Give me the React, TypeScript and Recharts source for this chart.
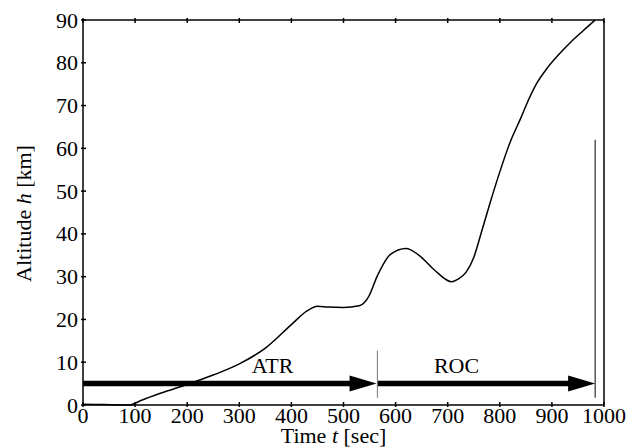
import React from "react";
import {
  Label,
  Line,
  LineChart,
  ReferenceDot,
  ReferenceLine,
  XAxis,
  YAxis,
} from "recharts";

// altitude profile
const timeSec = [
  0, 40, 90, 110, 150, 200, 250, 300, 350, 400, 430, 450, 470, 500, 530, 548,
  565, 590, 620, 645, 675, 708, 720, 735, 750, 765, 781, 800, 820, 840, 855,
  870, 890, 910, 935, 960, 983,
];
const altitudeKm = [
  0.2, 0.1, 0, 1, 2.8, 4.8, 7.0, 9.6, 13.3, 18.8, 22, 23.1, 22.9, 22.8, 23.2,
  25.3, 30.2, 35.2, 36.6, 35, 31.5, 28.8, 29.4, 31, 34.5, 40.5, 47.1, 54.5,
  61.5, 67, 71.3, 75, 78.6, 81.5, 84.7, 87.5, 90,
];

const xTicks = [0, 100, 200, 300, 400, 500, 600, 700, 800, 900, 1000];
const yTicks = [0, 10, 20, 30, 40, 50, 60, 70, 80, 90];

// phases: ATR then ROC
const phaseNames = ["ATR", "ROC"];
const phaseStart = [0, 565];
const phaseEnd = [563.5, 983];
const phaseLevel = 5;

const data = timeSec.map((t, i) => ({ t, h: altitudeKm[i] }));

const FONT = '"Liberation Serif", "Times New Roman", serif';
const TICK = 5;

const BottomTick = ({ x, y, payload }: any) => (
  <g>
    <line x1={x} x2={x} y1={y} y2={y - TICK} stroke="#000" strokeWidth={1.5} />
    <text x={x} y={y + 16} textAnchor="middle" fontSize={22} fontFamily={FONT} fill="#000">
      {payload.value}
    </text>
  </g>
);

const LeftTick = ({ x, y, payload }: any) => (
  <g>
    <line x1={x} x2={x + TICK} y1={y} y2={y} stroke="#000" strokeWidth={1.5} />
    <text x={x - 3} y={y + 7.5} textAnchor="end" fontSize={22} fontFamily={FONT} fill="#000">
      {payload.value}
    </text>
  </g>
);

const TopTick = ({ x, y }: any) => (
  <line x1={x} x2={x} y1={y} y2={y + TICK} stroke="#000" strokeWidth={1.5} />
);

const RightTick = ({ x, y }: any) => (
  <line x1={x} x2={x - TICK} y1={y} y2={y} stroke="#000" strokeWidth={1.5} />
);

const Arrow = (p: any) => {
  const { x1, y1, x2, y2 } = p;
  const head = 27;
  const half = 8;
  return (
    <g>
      <line x1={x1} y1={y1} x2={x2 - head + 2} y2={y2} stroke="#000" strokeWidth={5.5} />
      <polygon
        points={`${x2},${y2} ${x2 - head},${y2 - half} ${x2 - head},${y2 + half}`}
        fill="#000"
      />
    </g>
  );
};

const PhaseText = (name: string) => (p: any) => (
  <text x={p.cx} y={p.cy} textAnchor="middle" fontSize={22} fontFamily={FONT} fill="#000">
    {name}
  </text>
);

export default function App() {
  return (
    <div style={{ position: "absolute", left: 0, top: 0, background: "#fff" }}>
      <LineChart
        width={633}
        height={447}
        data={data}
        margin={{ top: 0, right: 0, bottom: 0, left: 0 }}
      >
        <XAxis
          dataKey="t"
          type="number"
          domain={[0, 1000]}
          ticks={xTicks}
          interval={0}
          height={42}
          tickSize={0}
          tickLine={false}
          axisLine={{ stroke: "#000", strokeWidth: 1.5 }}
          tick={<BottomTick />}
        >
          <Label
            content={({ viewBox }: any) => (
              <text
                x={viewBox.x + viewBox.width / 2 - 10}
                y={viewBox.y + 38}
                textAnchor="middle"
                fontSize={22}
                fontFamily={FONT}
                fill="#000"
              >
                Time <tspan fontStyle="italic">t</tspan> [sec]
              </text>
            )}
          />
        </XAxis>
        <XAxis
          xAxisId="top"
          orientation="top"
          dataKey="t"
          type="number"
          domain={[0, 1000]}
          ticks={xTicks}
          interval={0}
          height={20}
          tickSize={0}
          tickLine={false}
          axisLine={{ stroke: "#000", strokeWidth: 1.5 }}
          tick={<TopTick />}
        />
        <YAxis
          type="number"
          domain={[0, 90]}
          ticks={yTicks}
          interval={0}
          width={83}
          tickSize={0}
          tickLine={false}
          axisLine={{ stroke: "#000", strokeWidth: 1.5 }}
          tick={<LeftTick />}
        >
          <Label
            content={({ viewBox }: any) => {
              const cx = 31;
              const cy = viewBox.y + viewBox.height / 2 + 1;
              return (
                <text
                  x={cx}
                  y={cy}
                  transform={`rotate(-90 ${cx} ${cy})`}
                  textAnchor="middle"
                  fontSize={22}
                  fontFamily={FONT}
                  fill="#000"
                >
                  Altitude <tspan fontStyle="italic">h</tspan> [km]
                </text>
              );
            }}
          />
        </YAxis>
        <YAxis
          yAxisId="right"
          orientation="right"
          type="number"
          domain={[0, 90]}
          ticks={yTicks}
          interval={0}
          width={29}
          tickSize={0}
          tickLine={false}
          axisLine={{ stroke: "#000", strokeWidth: 1.5 }}
          tick={<RightTick />}
        />

        {phaseNames.map((name, i) => (
          <ReferenceLine
            key={name}
            segment={[
              { x: phaseStart[i], y: phaseLevel },
              { x: phaseEnd[i], y: phaseLevel },
            ]}
            shape={Arrow}
          />
        ))}
        <ReferenceLine
          segment={[
            { x: 565, y: 1.7 },
            { x: 565, y: 12.7 },
          ]}
          stroke="#777"
          strokeWidth={1}
        />
        <ReferenceLine
          segment={[
            { x: 983, y: 1.7 },
            { x: 983, y: 62 },
          ]}
          stroke="#000"
          strokeWidth={1}
        />
        <ReferenceDot x={364} y={7.5} r={0} shape={PhaseText(phaseNames[0])} />
        <ReferenceDot x={717} y={7.5} r={0} shape={PhaseText(phaseNames[1])} />

        <Line
          dataKey="h"
          type="monotone"
          stroke="#000"
          strokeWidth={1.5}
          dot={false}
          isAnimationActive={false}
        />
      </LineChart>
    </div>
  );
}
